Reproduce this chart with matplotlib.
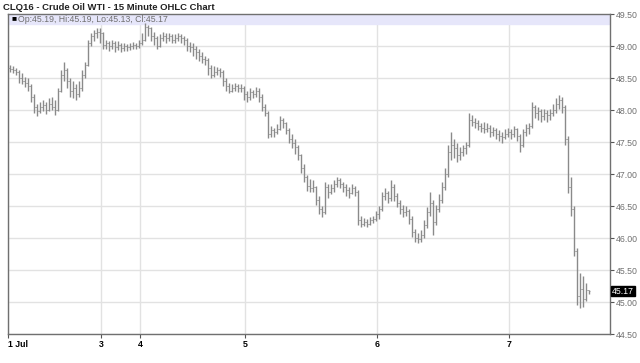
import numpy as np
import matplotlib.pyplot as plt
import matplotlib.transforms as mtransforms

plt.rcParams['font.family'] = ['Liberation Sans', 'DejaVu Sans']

# 15-minute OHLC bars (aggregated), Jul 1 - Jul 7
opens = [
    48.66, 48.64, 48.62, 48.60, 48.50, 48.45, 48.42, 48.38, 48.20, 48.05,
    47.98, 48.05, 48.08, 48.00, 48.10, 48.05, 48.00, 48.30, 48.55, 48.62,
    48.45, 48.30, 48.35, 48.25, 48.35, 48.55, 48.70, 49.05, 49.15, 49.20,
    49.22,
    49.20, 49.02, 49.05, 49.00, 49.05, 48.98, 49.02, 48.97, 49.00, 48.98,
    49.00, 49.02, 49.00,
    49.05, 49.10, 49.30, 49.28, 49.15, 49.12, 49.00, 49.12, 49.15, 49.12,
    49.15, 49.10, 49.12, 49.15, 49.12, 49.10, 49.00, 48.98, 48.95, 48.90,
    48.85, 48.80, 48.78, 48.65, 48.55, 48.60, 48.62, 48.60, 48.45, 48.38,
    48.30, 48.35, 48.38, 48.35, 48.35,
    48.25, 48.20, 48.28, 48.25, 48.30, 48.20, 48.05, 47.95, 47.62, 47.68,
    47.65, 47.70, 47.85, 47.80, 47.68, 47.55, 47.48, 47.42, 47.30, 47.10,
    46.95, 46.82, 46.78, 46.80, 46.60, 46.45, 46.40, 46.80, 46.72, 46.78,
    46.85, 46.90, 46.85, 46.80, 46.75, 46.70, 46.78, 46.72, 46.28, 46.22,
    46.25, 46.22, 46.28, 46.30,
    46.38, 46.45, 46.65, 46.70, 46.62, 46.80, 46.65, 46.55, 46.45, 46.40,
    46.42, 46.30, 46.10, 46.00, 45.98, 46.05, 46.20, 46.40, 46.55, 46.25,
    46.45, 46.60, 46.80, 47.00, 47.35, 47.45, 47.40, 47.30, 47.35, 47.40,
    47.45, 47.85, 47.82, 47.80, 47.75, 47.72, 47.70, 47.72, 47.65, 47.68,
    47.62, 47.60, 47.58, 47.62,
    47.65, 47.62, 47.70, 47.60, 47.45, 47.65, 47.72, 47.75, 48.05, 47.95,
    47.98, 47.90, 47.95, 47.92, 47.95, 48.00, 48.10, 48.15, 48.05, 47.55,
    46.80, 46.45, 45.80, 45.10, 45.20, 45.05, 45.19,
]
highs = [
    48.70, 48.68, 48.66, 48.62, 48.58, 48.52, 48.50, 48.40, 48.25, 48.10,
    48.12, 48.15, 48.12, 48.18, 48.20, 48.15, 48.35, 48.62, 48.75, 48.65,
    48.50, 48.45, 48.40, 48.45, 48.62, 48.75, 49.10, 49.20, 49.25, 49.28,
    49.28,
    49.22, 49.10, 49.08, 49.10, 49.08, 49.08, 49.05, 49.05, 49.03, 49.05,
    49.07, 49.05, 49.10,
    49.20, 49.36, 49.33, 49.30, 49.22, 49.15, 49.18, 49.22, 49.20, 49.20,
    49.18, 49.18, 49.20, 49.18, 49.16, 49.12, 49.06, 49.04, 49.00, 48.95,
    48.90, 48.85, 48.82, 48.70, 48.68, 48.67, 48.65, 48.62, 48.50, 48.42,
    48.40, 48.42, 48.40, 48.40, 48.37,
    48.30, 48.35, 48.32, 48.36, 48.34, 48.25, 48.10, 47.98, 47.75, 47.72,
    47.78, 47.90, 47.88, 47.82, 47.72, 47.62, 47.55, 47.45, 47.32, 47.15,
    46.98, 46.92, 46.90, 46.82, 46.65, 46.50, 46.88, 46.85, 46.85, 46.90,
    46.95, 46.93, 46.88, 46.84, 46.80, 46.85, 46.82, 46.75, 46.35, 46.32,
    46.30, 46.33, 46.35, 46.42,
    46.50, 46.72, 46.78, 46.74, 46.90, 46.84, 46.70, 46.60, 46.52, 46.50,
    46.45, 46.34, 46.14, 46.08, 46.12, 46.28, 46.48, 46.72, 46.60, 46.52,
    46.68, 46.88, 47.10, 47.45, 47.66, 47.55, 47.48, 47.42, 47.45, 47.50,
    47.95, 47.92, 47.88, 47.85, 47.80, 47.82, 47.80, 47.76, 47.74, 47.72,
    47.68, 47.65, 47.70, 47.72,
    47.70, 47.75, 47.72, 47.62, 47.70, 47.78, 47.80, 48.13, 48.08, 48.05,
    48.02, 48.02, 48.00, 48.02, 48.10, 48.18, 48.23, 48.20, 48.08, 47.60,
    46.95, 46.50, 45.85, 45.45, 45.40, 45.30, 45.19,
]
lows = [
    48.60, 48.58, 48.55, 48.42, 48.40, 48.36, 48.30, 48.12, 47.95, 47.90,
    47.95, 47.98, 47.93, 47.98, 48.00, 47.92, 47.98, 48.28, 48.45, 48.35,
    48.20, 48.18, 48.15, 48.20, 48.30, 48.50, 48.68, 49.00, 49.08, 49.12,
    49.05,
    48.95, 48.95, 48.92, 48.95, 48.90, 48.93, 48.90, 48.92, 48.92, 48.94,
    48.95, 48.95, 48.97,
    49.02, 49.08, 49.15, 49.08, 49.02, 48.96, 48.98, 49.08, 49.05, 49.08,
    49.04, 49.05, 49.08, 49.05, 49.02, 48.92, 48.90, 48.85, 48.80, 48.76,
    48.73, 48.70, 48.55, 48.50, 48.52, 48.55, 48.52, 48.38, 48.30, 48.27,
    48.28, 48.30, 48.28, 48.28, 48.15,
    48.12, 48.15, 48.18, 48.20, 48.12, 47.98, 47.90, 47.56, 47.58, 47.58,
    47.62, 47.68, 47.72, 47.62, 47.48, 47.40, 47.32, 47.22, 47.02, 46.88,
    46.74, 46.72, 46.72, 46.52, 46.38, 46.33, 46.38, 46.62, 46.68, 46.72,
    46.80, 46.78, 46.72, 46.66, 46.62, 46.68, 46.65, 46.20, 46.17, 46.18,
    46.17, 46.20, 46.24, 46.26,
    46.30, 46.42, 46.60, 46.55, 46.58, 46.58, 46.48, 46.38, 46.33, 46.34,
    46.22, 46.02, 45.94, 45.92, 45.94, 46.00, 46.15, 46.35, 46.05, 46.20,
    46.40, 46.55, 46.75, 46.95, 47.22, 47.25, 47.18, 47.22, 47.28, 47.32,
    47.42, 47.75, 47.72, 47.68, 47.65, 47.64, 47.65, 47.58, 47.60, 47.55,
    47.52, 47.48, 47.55, 47.58,
    47.55, 47.58, 47.52, 47.34, 47.42, 47.60, 47.62, 47.72, 47.88, 47.85,
    47.82, 47.85, 47.82, 47.85, 47.90, 47.95, 48.02, 47.95, 47.45, 46.70,
    46.35, 45.72, 44.95, 44.90, 44.92, 45.02, 45.13,
]
closes = opens[1:] + [45.17]

day_starts = [0, 31, 44, 79, 123, 167]
day_labels = ['1 Jul', '3', '4', '5', '6', '7']
price_ticks = [44.5, 45.0, 45.5, 46.0, 46.5, 47.0, 47.5, 48.0, 48.5, 49.0, 49.5]
title = 'CLQ16 - Crude Oil WTI - 15 Minute OHLC Chart'
info = 'Op:45.19, Hi:45.19, Lo:45.13, Cl:45.17'

fig = plt.figure(figsize=(6.4, 3.63), dpi=100)
ax = fig.add_axes([8 / 640, 1 - 334 / 363, 602 / 640, 320 / 363])

x = np.arange(len(highs))
bar_col = '#8a8a8a'
ax.vlines(x, lows, highs, color=bar_col, linewidth=1.0, zorder=3)
ax.hlines(opens, x - 0.35, x, color=bar_col, linewidth=0.5, zorder=3)
ax.hlines(closes, x, x + 0.35, color=bar_col, linewidth=0.5, zorder=3)

ax.set_xlim(-0.5, 602 / 3 - 0.5)
ax.set_ylim(44.5, 49.5)

# info band on top
band_lo = 49.5 - 10 / 64
ax.axhspan(band_lo, 49.5, color='#e6e6fa', zorder=1)
ax.text(2.5 / 3, (band_lo + 49.5) / 2, '\u25a0', fontsize=6, color='black',
        va='center', ha='left', zorder=5)
ax.text(9 / 3, (band_lo + 49.5) / 2, info, fontsize=6.3, color='#707070',
        va='center', ha='left', zorder=5)

ax.grid(True, color='#e2e2e2', linewidth=1.0, zorder=0)
ax.set_axisbelow(True)
ax.set_xticks([d - 0.5 for d in day_starts])
ax.set_xticklabels(day_labels, fontsize=6.3, fontweight='bold', color='black')
first = ax.get_xticklabels()[0]
first.set_horizontalalignment('left')
first.set_transform(first.get_transform() +
                    mtransforms.ScaledTranslation(-7 / 100, 0, fig.dpi_scale_trans))
ax.yaxis.tick_right()
ax.set_yticks(price_ticks)
ax.set_yticklabels(['%.2f' % p for p in price_ticks], fontsize=6.3, color='#707070')
ax.tick_params(axis='both', length=3, width=0.8, color='#555555', pad=1)
for s in ax.spines.values():
    s.set_color('#707070')
    s.set_linewidth(1.0)

# last price tag
ax.text(1.003, (closes[-1] - 44.5) / 5.0, '%.2f' % closes[-1], transform=ax.transAxes,
        fontsize=6.3, color='white', va='center', ha='left',
        bbox=dict(boxstyle='square,pad=0.1', fc='black', ec='black'), zorder=6)

fig.text(3 / 640, 1 - 7 / 363, title, fontsize=6.8, fontweight='bold',
         color='#222222', va='center', ha='left')

fig.savefig('out.png', dpi=100)
